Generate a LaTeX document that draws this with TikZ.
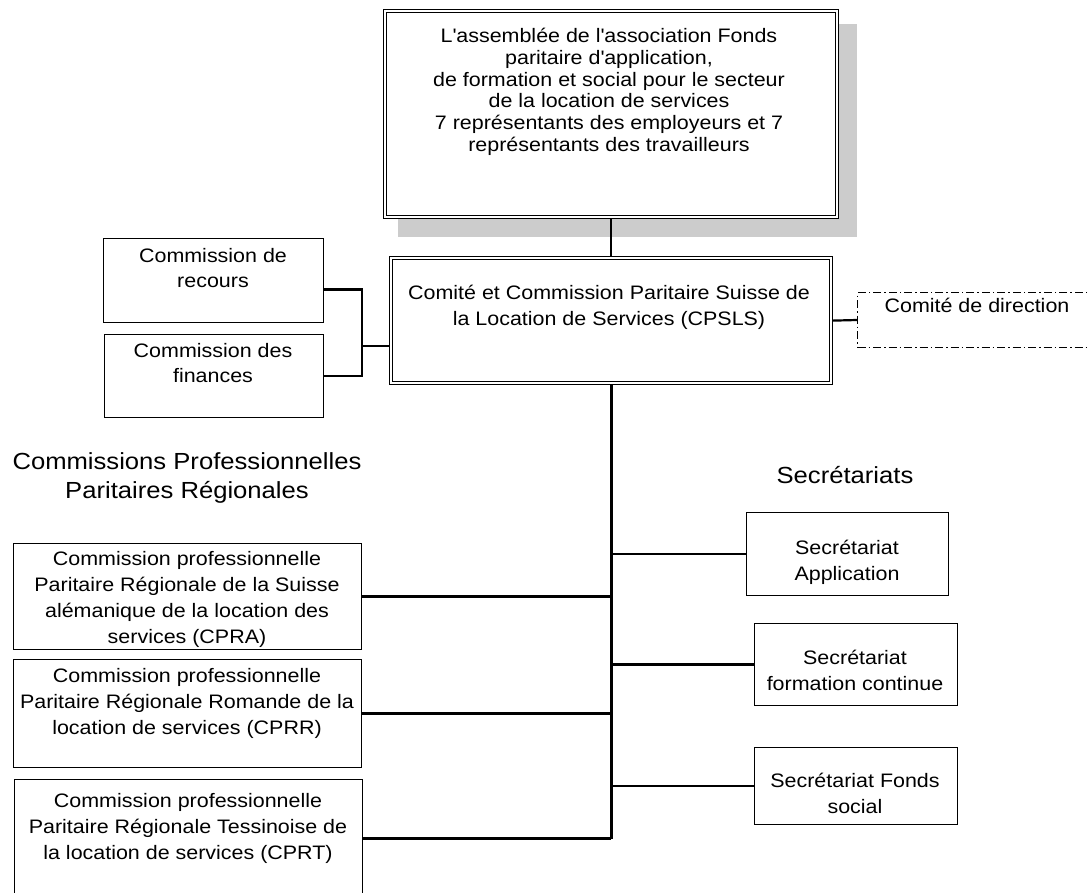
\documentclass[tikz,border=0pt]{standalone}
\usepackage{fontspec}
\setmainfont{Liberation Sans}[FakeStretch=1.1]

\begin{document}
\begin{tikzpicture}[x=1pt, y=-1pt,
	box/.style={draw, line width=1pt, fill=white, inner sep=0pt, anchor=north west},
	dbox/.style={draw, double, double distance=2.4pt, line width=0.9pt, outer sep=2.1pt, fill=white, inner sep=0pt, anchor=north west},
	txt/.style={anchor=north, align=center, inner sep=0pt, font=\fontsize{19.5}{26}\selectfont},
	head/.style={align=center, inner sep=0pt, font=\fontsize{23.3}{29}\selectfont},
	link/.style={line width=2.2pt}]
	\useasboundingbox (0, 0) rectangle (1089, 892);

	% shadow of the assembly
	\fill[black!20] (398, 24) rectangle (857, 237);

	\node[dbox, minimum width=452, minimum height=206] (assembly) at (383, 9) {};
	\node[dbox, minimum width=440, minimum height=125] (cpsls) at (389, 256) {};

	\node[box, minimum width=220, minimum height=84] (recours) at (103, 238) {};
	\node[box, minimum width=219, minimum height=83] (finances) at (104, 334) {};
	\node[box, minimum width=240, minimum height=55, dash pattern=on 8pt off 3pt on 1.5pt off 3pt] (direction) at (857, 292) {};

	\node[box, minimum width=348, minimum height=106] (cpra) at (13, 543) {};
	\node[box, minimum width=348, minimum height=108] (cprr) at (13, 659) {};
	\node[box, minimum width=348, minimum height=118] (cprt) at (14, 779) {};

	\node[box, minimum width=202, minimum height=83] (sapp) at (746, 512) {};
	\node[box, minimum width=203, minimum height=82] (sform) at (754, 623) {};
	\node[box, minimum width=203, minimum height=77] (sfonds) at (754, 747) {};

	% texts
	\node[txt, font=\fontsize{19.5}{21.8}\selectfont] (assembly-t) at (609, 28) {L\textquotesingle assemblée de l\textquotesingle association Fonds\\paritaire d\textquotesingle application,\\de formation et social pour le secteur\\de la location de services\\7 représentants des employeurs et 7\\représentants des travailleurs};
	\node[txt] (cpsls-t) at (609, 285) {Comité et Commission Paritaire Suisse de\\la Location de Services (CPSLS)};
	\node[txt, font=\fontsize{19.5}{25}\selectfont] (recours-t) at (213, 248) {Commission de\\recours};
	\node[txt, font=\fontsize{19.5}{25}\selectfont] (finances-t) at (213, 343) {Commission des\\finances};
	\node[txt] (direction-t) at (977, 298) {Comité de direction};

	\node[head] (cppr) at (187, 478) {Commissions Professionnelles\\Paritaires Régionales};
	\node[head] (secr) at (845, 475) {Secrétariats};

	\node[txt] (cpra-t) at (187, 551) {Commission professionnelle\\Paritaire Régionale de la Suisse\\alémanique de la location des\\services (CPRA)};
	\node[txt] (cprr-t) at (187, 668) {Commission professionnelle\\Paritaire Régionale Romande de la\\location de services (CPRR)};
	\node[txt] (cprt-t) at (188, 793) {Commission professionnelle\\Paritaire Régionale Tessinoise de\\la location de services (CPRT)};

	\node[txt] (sapp-t) at (847, 540) {Secrétariat\\Application};
	\node[txt] (sform-t) at (855, 650) {Secrétariat\\formation continue};
	\node[txt] (sfonds-t) at (855, 773) {Secrétariat Fonds\\social};

	% links
	\draw[line width=1.5pt] (assembly.south) -- (cpsls.north);
	\draw[link] (cpsls.east) -- (direction.west);

	\coordinate (join) at (362, 346);
	\draw[link] ([yshift=-9pt]recours.east) -| (join) -- (join -| cpsls.west);
	\draw[link] (finances.east) -| (join);

	\draw[line width=3pt] (cpsls.south) -- (cpsls.south |- cprt.east);
	\draw[link] (cpsls.south |- cpra.east) -- (cpra.east);
	\draw[link] (cpsls.south |- cprr.east) -- (cprr.east);
	\draw[link] (cpsls.south |- cprt.east) -- (cprt.east);
	\draw[link] (cpsls.south |- sapp.west) -- (sapp.west);
	\draw[link] (cpsls.south |- sform.west) -- (sform.west);
	\draw[link] (cpsls.south |- sfonds.west) -- (sfonds.west);
\end{tikzpicture}
\end{document}
